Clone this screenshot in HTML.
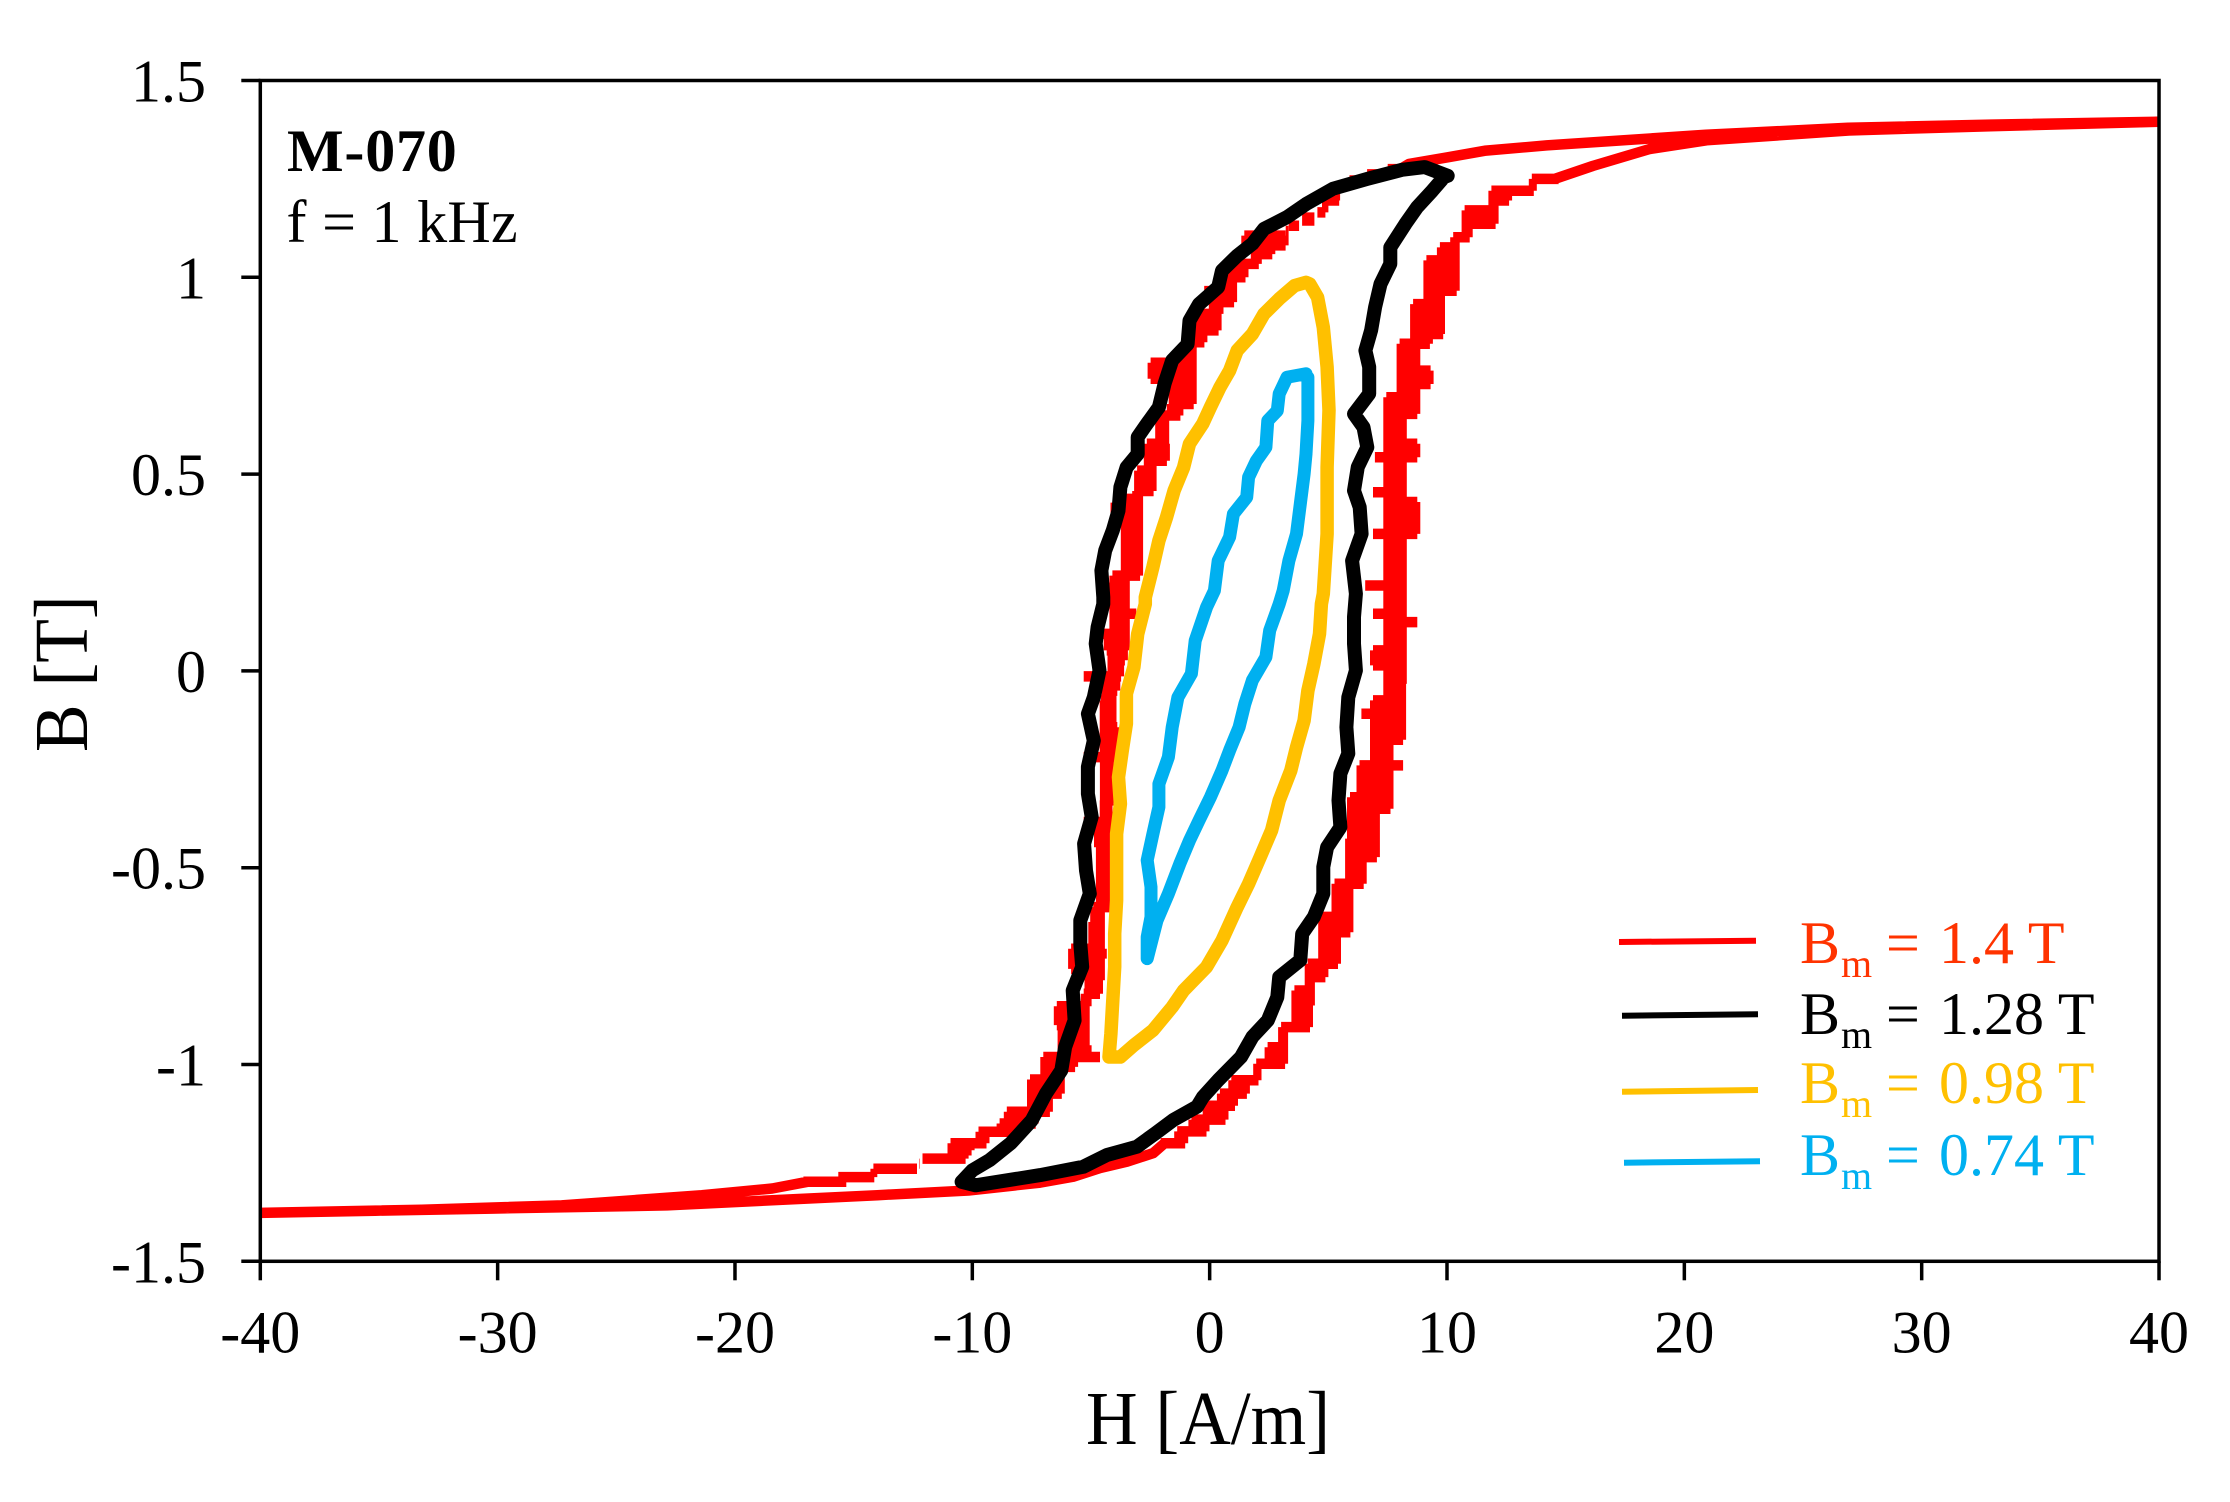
<!DOCTYPE html>
<html lang="en">
<head>
<meta charset="utf-8">
<title>M-070 hysteresis loops</title>
<style>
html,body{margin:0;padding:0;background:#fff;width:2230px;height:1502px;overflow:hidden}
svg{display:block}
text{font-family:"Liberation Serif","Times New Roman",serif;fill:#000}
.loop{fill:none}
</style>
</head>
<body>
<svg id="chart" xmlns="http://www.w3.org/2000/svg" width="2230" height="1502" viewBox="0 0 2230 1502">
  <rect x="0" y="0" width="2230" height="1502" fill="#fff"/>
  <defs>
    <clipPath id="plot-clip"><rect id="plot-clip-rect" x="0" y="0" width="2230" height="1502"/></clipPath>
  </defs>
  <g id="series" clip-path="url(#plot-clip)"></g>
  <g id="axes"></g>

  <text x="287" y="171" font-size="60" font-weight="bold" letter-spacing="0.8">M-070</text>
  <text x="286.5" y="242" font-size="60" letter-spacing="0.3">f = 1 kHz</text>

  <text transform="translate(1208 1444) scale(0.94 1)" font-size="76" text-anchor="middle">H [A/m]</text>
  <text transform="translate(87 673.7) rotate(-90) scale(0.94 1)" font-size="76" text-anchor="middle">B [T]</text>

  <g>
    <g fill="#FF3300">
      <line x1="1619" y1="942" x2="1756" y2="940.7" stroke="#FF0000" stroke-width="6"/>
      <text font-size="60" style="fill:#FF3300"><tspan x="1800" y="963">B</tspan><tspan x="1841" y="977" font-size="40">m</tspan><tspan x="1886" y="963">=</tspan><tspan x="1939" y="963">1.4 T</tspan></text>
    </g>
    <g>
      <line x1="1622" y1="1015.7" x2="1758" y2="1014.3" stroke="#000000" stroke-width="6"/>
      <text font-size="60" style="fill:#000000"><tspan x="1800" y="1034">B</tspan><tspan x="1841" y="1048" font-size="40">m</tspan><tspan x="1886" y="1034">=</tspan><tspan x="1939" y="1034">1.28 T</tspan></text>
    </g>
    <g>
      <line x1="1622" y1="1091.7" x2="1758" y2="1090" stroke="#FFC000" stroke-width="6"/>
      <text font-size="60" style="fill:#FFC000"><tspan x="1800" y="1103">B</tspan><tspan x="1841" y="1117" font-size="40">m</tspan><tspan x="1886" y="1103">=</tspan><tspan x="1939" y="1103">0.98 T</tspan></text>
    </g>
    <g>
      <line x1="1624" y1="1162.7" x2="1760" y2="1161.3" stroke="#00B0F0" stroke-width="6"/>
      <text font-size="60" style="fill:#00B0F0"><tspan x="1800" y="1175">B</tspan><tspan x="1841" y="1189" font-size="40">m</tspan><tspan x="1886" y="1175">=</tspan><tspan x="1939" y="1175">0.74 T</tspan></text>
    </g>
  </g>
</svg>
<script>
const xTicks = [-40, -30, -20, -10, 0, 10, 20, 30, 40];
const yTicks = [1.5, 1, 0.5, 0, -0.5, -1, -1.5];

/* Bm = 1.4 T: tails are smooth, the steep branches are stair-stepped noise */
const redLowerH = [-40, -30.26, -22.87, -18.43, -14, -10.16, -7.14, -5.75, -4.61, -3.48, -2.38];
const redLowerB = [-1.377, -1.366, -1.358, -1.345, -1.332, -1.32, -1.3, -1.285, -1.263, -1.247, -1.225];

const redRiseB = [-1.2, -1.17, -1.14, -1.105, -1.074, -1.04, -0.998, -0.956, -0.905, -0.85, -0.812, -0.778, -0.744, -0.702, -0.664, -0.625, -0.583, -0.541, -0.498, -0.473, -0.426, -0.388, -0.35, -0.321, -0.291, -0.24, -0.202, -0.175, -0.109, -0.075, -0.033, 0.014, 0.052, 0.094, 0.124, 0.145, 0.17, 0.217, 0.264, 0.348, 0.382, 0.429, 0.454, 0.501, 0.543, 0.577, 0.615, 0.653, 0.695, 0.729, 0.763, 0.797, 0.831, 0.856, 0.899, 0.932, 0.966, 1.0, 1.043, 1.076, 1.102, 1.136, 1.17, 1.195, 1.22, 1.25];
const redRiseLeftH = [-1.9, -1.2, -0.6, 0, 0.6, 1.08, 2.13, 2.61, 3.18, 3.74, 3.74, 4.3, 4.3, 4.87, 4.87, 4.87, 5.43, 5.43, 6.0, 6.0, 6.0, 6.08, 6.08, 6.08, 6.48, 6.48, 7.05, 7.05, 6.56, 7.05, 7.61, 7.05, 7.05, 7.61, 7.61, 7.05, 7.61, 6.72, 7.61, 7.05, 7.61, 7.61, 7.05, 7.61, 7.13, 7.61, 7.61, 7.61, 7.61, 8.17, 8.17, 8.17, 8.17, 8.74, 8.74, 8.74, 9.3, 9.3, 9.3, 9.87, 10.43, 10.91, 10.91, 12.04, 12.04, 13.74];
const redRiseRightH = [-1.2, -0.3, 0.5, 0.9, 1.4, 1.89, 3.01, 3.01, 4.06, 4.14, 4.14, 4.71, 5.24, 5.24, 5.76, 5.76, 5.76, 6.32, 6.32, 6.88, 6.88, 6.88, 7.45, 7.45, 7.45, 7.98, 7.45, 7.98, 7.98, 7.98, 8.01, 8.01, 8.01, 8.01, 8.58, 8.01, 8.01, 8.01, 8.01, 8.58, 8.58, 8.58, 8.01, 8.01, 8.58, 8.58, 8.01, 8.58, 8.58, 9.14, 9.14, 8.58, 9.11, 9.67, 9.62, 9.62, 10.24, 10.24, 10.24, 10.24, 10.79, 11.88, 11.88, 12.45, 13.49, 14.54];

const redUpperH = [16.15, 18.54, 20.94, 26.93, 32.9, 40, 32.9, 26.9, 20.9, 14.2, 11.64, 10.03, 8.4];
const redUpperB = [1.283, 1.326, 1.348, 1.373, 1.384, 1.395, 1.388, 1.38, 1.362, 1.335, 1.322, 1.305, 1.288];

const redFallB = [1.275, 1.246, 1.22, 1.195, 1.165, 1.131, 1.106, 1.081, 1.059, 1.034, 1.0, 0.965, 0.937, 0.907, 0.865, 0.835, 0.81, 0.783, 0.742, 0.712, 0.678, 0.649, 0.615, 0.577, 0.534, 0.509, 0.457, 0.437, 0.414, 0.357, 0.314, 0.242, 0.211, 0.145, 0.094, 0.052, 0.027, -0.014, -0.05, -0.075, -0.143, -0.177, -0.219, -0.253, -0.329, -0.384, -0.448, -0.477, -0.515, -0.566, -0.6, -0.638, -0.693, -0.706, -0.731, -0.757, -0.786, -0.82, -0.852, -0.9, -0.951, -0.981, -1.006, -1.038, -1.074, -1.12, -1.15, -1.171, -1.2, -1.218, -1.239, -1.265, -1.286, -1.298];
const redFallLeftH = [7.67, 6.06, 5.2, 5.03, 4.71, 3.5, 1.63, 1.55, 2.03, 0.9, 0.58, -0.06, 0.26, -0.63, -0.39, -0.39, -1.19, -2.32, -2.32, -1.43, -1.51, -2.32, -2, -2.48, -2.48, -2.89, -2.97, -3.45, -4.01, -3.45, -3.45, -3.93, -4.58, -3.93, -4.34, -4.17, -4.01, -5.14, -4.26, -4.42, -4.34, -4.34, -5.14, -4.33, -4.34, -5.14, -4.58, -4.5, -4.58, -4.5, -4.74, -4.82, -4.82, -5.67, -5.67, -5.67, -4.98, -5.14, -6.27, -6.27, -6.11, -6.84, -6.84, -7.4, -7.4, -8.38, -8.68, -9.57, -10.75, -10.75, -11.93, -14, -15.48, -16.95];
const redFallRightH = [8.03, 6.34, 5.2, 5.29, 4.71, 3.6, 3.03, 3.03, 2.47, 1.9, 1.34, 0.86, 0.86, 0.29, 0.21, -0.39, -0.84, -0.84, -0.84, -0.84, -0.84, -1.4, -2, -1.97, -1.97, -2.53, -2.53, -3.1, -3.1, -3.1, -3.1, -3.1, -3.66, -3.26, -3.66, -3.66, -3.74, -3.9, -4.06, -4.22, -4.06, -4.06, -3.66, -4.33, -4.22, -4.39, -4.3, -4.39, -4.39, -4.39, -4.39, -4.71, -4.71, -4.63, -4.63, -4.71, -4.71, -4.79, -5.27, -5.35, -5.27, -4.79, -5.84, -6.4, -6.4, -6.9, -7.5, -8.09, -9.57, -10.2, -10.45, -12.5, -14.3, -15.48];

const redTailH = [-18.43, -21.4, -24.35, -27.3, -33.2, -40];
const redTailB = [-1.315, -1.332, -1.345, -1.358, -1.369, -1.377];

/* Bm = 1.28 T */
const blackH = [10.03, 9.06, 8.1, 6.64, 5.2, 4.06, 3.26, 2.29, 1.8, 1.16, 0.52, 0.36, -0.45, -0.85, -0.93, -1.58, -1.9, -2.14, -2.7, -3.03, -3.03, -3.5, -3.76, -3.84, -4.08, -4.4, -4.56, -4.48, -4.48, -4.72, -4.8, -4.64, -4.88, -5.13, -4.88, -5.13, -5.13, -4.97, -5.29, -5.21, -5.05, -5.45, -5.45, -5.37, -5.77, -5.69, -6.09, -6.25, -6.9, -7.5, -8.38, -9.27, -10.0, -10.45, -9.86, -7.14, -5.33, -4.33, -3.07, -2.29, -1.53, -0.53, -0.29, 0.36, 1.32, 1.8, 2.45, 2.85, 2.93, 3.82, 3.9, 4.39, 4.79, 4.79, 4.95, 5.51, 5.43, 5.51, 5.84, 5.76, 5.84, 6.16, 6.08, 6.08, 6.16, 6.0, 6.4, 6.32, 6.08, 6.24, 6.64, 6.48, 6.08, 6.72, 6.72, 6.56, 6.8, 6.97, 7.2, 7.61, 7.61, 8.25, 8.74, 9.38, 9.87, 10.03];
const blackB = [1.258, 1.28, 1.273, 1.25, 1.225, 1.186, 1.153, 1.123, 1.085, 1.055, 1.017, 0.975, 0.932, 0.89, 0.83, 0.789, 0.73, 0.67, 0.623, 0.594, 0.551, 0.517, 0.467, 0.407, 0.357, 0.306, 0.255, 0.187, 0.17, 0.111, 0.069, 0.001, -0.067, -0.109, -0.177, -0.244, -0.312, -0.371, -0.439, -0.507, -0.566, -0.634, -0.693, -0.752, -0.812, -0.888, -0.956, -1.015, -1.074, -1.142, -1.2, -1.243, -1.269, -1.298, -1.307, -1.281, -1.26, -1.23, -1.209, -1.175, -1.141, -1.107, -1.083, -1.04, -0.981, -0.93, -0.888, -0.829, -0.778, -0.735, -0.668, -0.625, -0.566, -0.498, -0.448, -0.397, -0.329, -0.261, -0.21, -0.143, -0.067, 0.001, 0.069, 0.137, 0.196, 0.28, 0.348, 0.416, 0.458, 0.518, 0.568, 0.619, 0.653, 0.704, 0.772, 0.814, 0.865, 0.924, 0.983, 1.034, 1.076, 1.136, 1.178, 1.22, 1.254, 1.258];

/* Bm = 0.98 T */
const yellowH = [4.06, 3.58, 2.93, 2.29, 1.8, 1.16, 0.84, 0.44, 0.03, -0.29, -0.85, -1.1, -1.5, -1.82, -2.14, -2.39, -2.71, -2.71, -3.03, -3.19, -3.51, -3.51, -3.68, -3.84, -3.76, -3.92, -3.92, -3.92, -4.0, -4.0, -4.08, -4.16, -4.24, -3.76, -3.19, -2.39, -1.58, -1.1, -0.13, 0.52, 1.16, 1.64, 2.13, 2.61, 2.93, 3.42, 3.66, 3.98, 4.14, 4.39, 4.63, 4.71, 4.79, 4.95, 4.95, 5.03, 4.95, 4.79, 4.55, 4.22, 4.06];
const yellowB = [0.987, 0.979, 0.945, 0.907, 0.856, 0.814, 0.763, 0.721, 0.67, 0.628, 0.577, 0.517, 0.458, 0.39, 0.331, 0.264, 0.187, 0.17, 0.094, 0.01, -0.058, -0.134, -0.202, -0.27, -0.338, -0.414, -0.498, -0.583, -0.668, -0.752, -0.837, -0.922, -0.981, -0.981, -0.951, -0.913, -0.854, -0.812, -0.752, -0.685, -0.6, -0.541, -0.473, -0.405, -0.329, -0.253, -0.194, -0.126, -0.05, 0.018, 0.094, 0.17, 0.196, 0.348, 0.518, 0.662, 0.772, 0.873, 0.949, 0.983, 0.987];

/* Bm = 0.74 T */
const blueH = [4.06, 3.26, 2.93, 2.85, 2.45, 2.37, 1.97, 1.64, 1.56, 1.0, 0.84, 0.36, 0.2, -0.13, -0.61, -0.77, -1.34, -1.58, -1.74, -2.14, -2.14, -2.39, -2.63, -2.47, -2.47, -2.63, -2.63, -2.22, -1.74, -1.26, -0.85, -0.45, 0.03, 0.52, 0.84, 1.24, 1.48, 1.8, 2.37, 2.53, 2.93, 3.1, 3.34, 3.66, 3.82, 3.98, 4.06, 4.14, 4.14, 4.14];
const blueB = [0.755, 0.746, 0.704, 0.661, 0.636, 0.568, 0.534, 0.492, 0.441, 0.399, 0.34, 0.28, 0.204, 0.162, 0.077, -0.007, -0.067, -0.143, -0.219, -0.287, -0.346, -0.414, -0.481, -0.549, -0.625, -0.676, -0.731, -0.634, -0.566, -0.49, -0.431, -0.38, -0.321, -0.253, -0.202, -0.143, -0.084, -0.024, 0.035, 0.103, 0.17, 0.204, 0.28, 0.348, 0.424, 0.5, 0.551, 0.636, 0.704, 0.746];

function xScale(h) { return 260.3 + (h + 40) * 23.734; }
function yScale(b) { return 670.9 - b * 393.6; }

const SVG_NS = 'http://www.w3.org/2000/svg';
const seriesLayer = document.getElementById('series');
const axesLayer = document.getElementById('axes');

/* Curves stop at the plot frame */
const plotClipRect = document.getElementById('plot-clip-rect');
plotClipRect.setAttribute('x', xScale(-40));
plotClipRect.setAttribute('y', yScale(1.5));
plotClipRect.setAttribute('width', xScale(40) - xScale(-40));
plotClipRect.setAttribute('height', yScale(-1.5) - yScale(1.5));

function pathFrom(hs, bs) {
  let d = '';
  for (let i = 0; i < hs.length; i++) {
    d += (i === 0 ? 'M' : 'L') + xScale(hs[i]).toFixed(1) + ' ' + yScale(bs[i]).toFixed(1);
  }
  return d;
}

/* One horizontal bar per noise level: the spikes sticking out of the band */
function levelBars(levels, leftH, rightH) {
  let d = '';
  for (let i = 0; i < levels.length; i++) {
    const y = yScale(levels[i]).toFixed(1);
    d += 'M' + (xScale(leftH[i]) - 4).toFixed(1) + ' ' + y + 'H' + (xScale(rightH[i]) + 4).toFixed(1);
  }
  return d;
}

/* Solid core of the noisy band: the overlap between each pair of neighbouring levels */
function coreRects(levels, leftH, rightH) {
  let d = '';
  for (let i = 0; i < levels.length - 1; i++) {
    let x0 = xScale(Math.max(leftH[i], leftH[i + 1])) - 7;
    let x1 = xScale(Math.min(rightH[i], rightH[i + 1])) + 7;
    if (x1 < x0) { const t = x0; x0 = x1; x1 = t; }
    const y0 = yScale(levels[i]);
    const y1 = yScale(levels[i + 1]);
    d += 'M' + x0.toFixed(1) + ' ' + y0.toFixed(1) + 'H' + x1.toFixed(1) + 'V' + y1.toFixed(1) + 'H' + x0.toFixed(1) + 'Z';
  }
  return d;
}

function redTails() {
  const lastRise = redRiseB.length - 1;
  const lastFall = redFallB.length - 1;
  const lowerD = pathFrom(redLowerH.concat([redRiseLeftH[0]]), redLowerB.concat([redRiseB[0]]));
  const upperD = pathFrom([redRiseRightH[lastRise]].concat(redUpperH, [redFallRightH[0]]), [redRiseB[lastRise]].concat(redUpperB, [redFallB[0]]));
  const tailD = pathFrom([redFallLeftH[lastFall]].concat(redTailH), [redFallB[lastFall]].concat(redTailB));
  return lowerD + upperD + tailD;
}

const redCore = document.createElementNS(SVG_NS, 'path');


redCore.setAttribute('d', coreRects(redRiseB, redRiseLeftH, redRiseRightH) + coreRects(redFallB, redFallLeftH, redFallRightH));
redCore.setAttribute('fill', '#FF0000');
seriesLayer.appendChild(redCore);

const redLine = document.createElementNS(SVG_NS, 'path');


redLine.setAttribute('class', 'loop');
redLine.setAttribute('d', redTails() + levelBars(redRiseB, redRiseLeftH, redRiseRightH) + levelBars(redFallB, redFallLeftH, redFallRightH));
redLine.setAttribute('stroke', '#FF0000');
redLine.setAttribute('stroke-width', '10.5');
redLine.setAttribute('stroke-linejoin', 'round');
seriesLayer.appendChild(redLine);

const blackLine = document.createElementNS(SVG_NS, 'path');


blackLine.setAttribute('class', 'loop');
blackLine.setAttribute('d', pathFrom(blackH, blackB));
blackLine.setAttribute('stroke', '#000000');
blackLine.setAttribute('stroke-width', '14');
blackLine.setAttribute('stroke-linejoin', 'round');
blackLine.setAttribute('stroke-linecap', 'round');
seriesLayer.appendChild(blackLine);

const yellowLine = document.createElementNS(SVG_NS, 'path');


yellowLine.setAttribute('class', 'loop');
yellowLine.setAttribute('d', pathFrom(yellowH, yellowB));
yellowLine.setAttribute('stroke', '#FFC000');
yellowLine.setAttribute('stroke-width', '13.5');
yellowLine.setAttribute('stroke-linejoin', 'round');
yellowLine.setAttribute('stroke-linecap', 'round');
seriesLayer.appendChild(yellowLine);

const blueLine = document.createElementNS(SVG_NS, 'path');


blueLine.setAttribute('class', 'loop');
blueLine.setAttribute('d', pathFrom(blueH, blueB));
blueLine.setAttribute('stroke', '#00B0F0');
blueLine.setAttribute('stroke-width', '13');
blueLine.setAttribute('stroke-linejoin', 'round');
blueLine.setAttribute('stroke-linecap', 'round');
seriesLayer.appendChild(blueLine);

/* Plot frame */
const frame = document.createElementNS(SVG_NS, 'rect');


frame.setAttribute('x', xScale(-40));
frame.setAttribute('y', yScale(1.5));
frame.setAttribute('width', xScale(40) - xScale(-40));
frame.setAttribute('height', yScale(-1.5) - yScale(1.5));
frame.setAttribute('fill', 'none');
frame.setAttribute('stroke', '#000');
frame.setAttribute('stroke-width', '3.5');
axesLayer.appendChild(frame);

xTicks.forEach(function (v) {
  const tick = document.createElementNS(SVG_NS, 'line');
  
  
  tick.setAttribute('x1', xScale(v));
  tick.setAttribute('x2', xScale(v));
  tick.setAttribute('y1', yScale(-1.5));
  tick.setAttribute('y2', yScale(-1.5) + 19);
  tick.setAttribute('stroke', '#000');
  tick.setAttribute('stroke-width', '3.5');
  axesLayer.appendChild(tick);

  const label = document.createElementNS(SVG_NS, 'text');
  
  
  label.setAttribute('x', xScale(v));
  label.setAttribute('y', yScale(-1.5) + 91);
  label.setAttribute('font-size', '60');
  label.setAttribute('text-anchor', 'middle');
  label.textContent = String(v);
  axesLayer.appendChild(label);
});

yTicks.forEach(function (v) {
  const tick = document.createElementNS(SVG_NS, 'line');
  
  
  tick.setAttribute('x1', xScale(-40) - 19);
  tick.setAttribute('x2', xScale(-40));
  tick.setAttribute('y1', yScale(v));
  tick.setAttribute('y2', yScale(v));
  tick.setAttribute('stroke', '#000');
  tick.setAttribute('stroke-width', '3.5');
  axesLayer.appendChild(tick);

  const label = document.createElementNS(SVG_NS, 'text');
  
  
  label.setAttribute('x', 206);
  label.setAttribute('y', yScale(v) + 21);
  label.setAttribute('font-size', '60');
  label.setAttribute('text-anchor', 'end');
  label.textContent = String(v);
  axesLayer.appendChild(label);
});
</script>
</body>
</html>
